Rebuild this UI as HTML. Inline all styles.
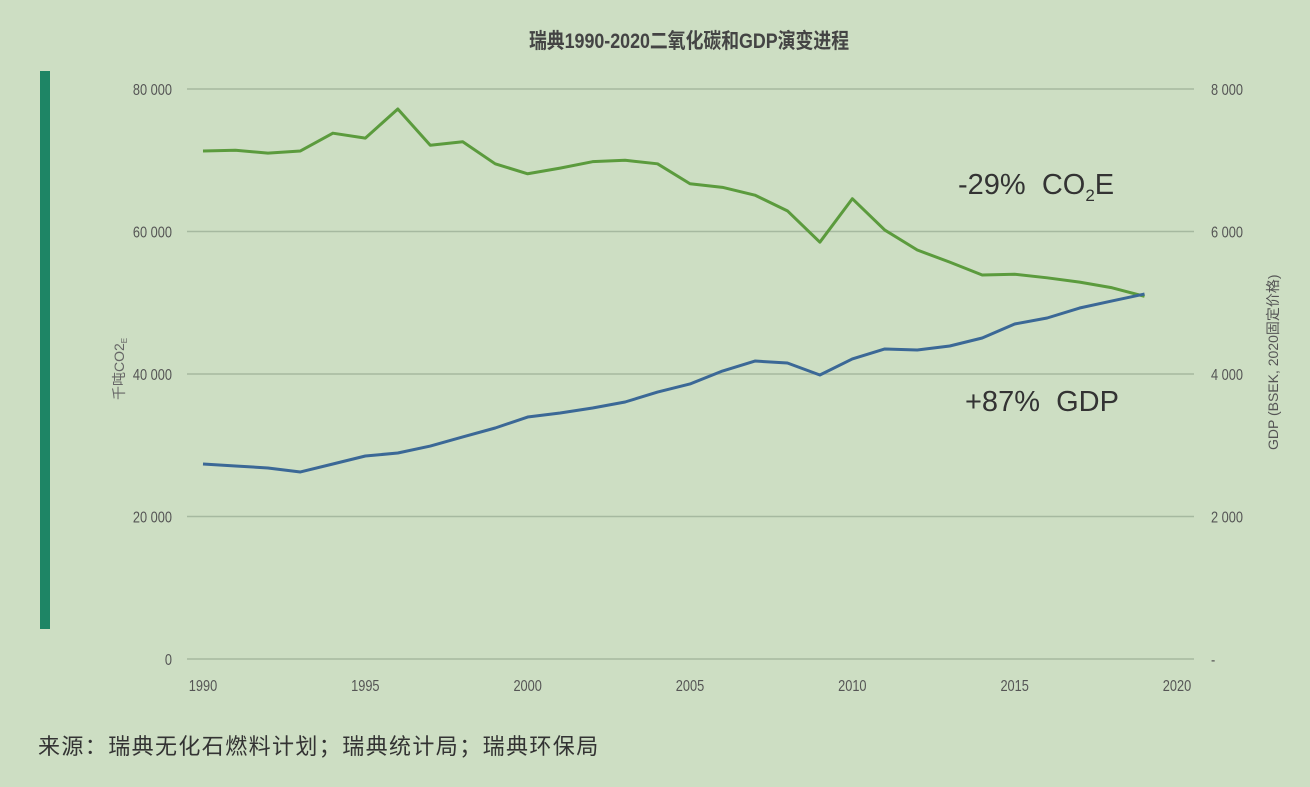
<!DOCTYPE html>
<html><head><meta charset="utf-8"><style>
body{margin:0;background:#cddec3;width:1310px;height:782px;overflow:hidden;font-family:"Liberation Sans","Noto Sans CJK SC",sans-serif;}
svg text{font-family:"Liberation Sans","Noto Sans CJK SC",sans-serif;}
.pre{white-space:pre;}
</style></head><body>
<svg width="1310" height="782" id="chart">
<rect x="0" y="0" width="1310" height="782" fill="#cddec3"/>
<rect x="40" y="71" width="10" height="558" fill="#1e8565"/>
<text x="689" y="48" text-anchor="middle" font-size="21" font-weight="bold" fill="#444" transform="translate(689 0) scale(0.85 1) translate(-689 0)">瑞典1990-2020二氧化碳和GDP演变进程</text>
<text transform="translate(124 400) rotate(-90)" font-size="14" fill="#666">千吨CO2<tspan font-size="8" dy="3">E</tspan></text>
<text transform="translate(1278 450) rotate(-90)" font-size="14" fill="#555">GDP (BSEK, 2020固定价格)</text>
<g id="grid"></g><g id="lines"></g>
<text class="pre" x="958" y="194" font-size="29" fill="#333">-29%  CO<tspan font-size="17" dy="7">2</tspan><tspan dy="-7">E</tspan></text>
<text class="pre" x="965" y="411" font-size="29" fill="#333">+87%  GDP</text>
<text x="38" y="754" font-size="22" letter-spacing="1.4" fill="#333">来源：瑞典无化石燃料计划；瑞典统计局；瑞典环保局</text>
</svg>
<script>
const years=[1990,1991,1992,1993,1994,1995,1996,1997,1998,1999,2000,2001,2002,2003,2004,2005,2006,2007,2008,2009,2010,2011,2012,2013,2014,2015,2016,2017,2018,2019];
const co2=[71300,71400,71000,71300,73800,73100,77200,72100,72600,69500,68100,68900,69800,70000,69500,66700,66200,65100,62900,58500,64600,60200,57400,55700,53900,54000,53500,52900,52100,50900];
const gdp=[2737,2709,2681,2625,2737,2849,2891,2989,3116,3242,3396,3453,3523,3607,3747,3860,4042,4182,4154,3986,4211,4351,4337,4393,4505,4702,4786,4926,5025,5123];
const leftTicks=[0,20000,40000,60000,80000];
const leftLabels=["0","20 000","40 000","60 000","80 000"];
const rightLabels=["-","2 000","4 000","6 000","8 000"];
const xTicks=[1990,1995,2000,2005,2010,2015,2020];
const NS="http://www.w3.org/2000/svg";
const xS=y=>203+(y-1990)*(1177-203)/30;
const yL=v=>659-v*(570/80000);
const yR=v=>659-v*(570/8000);
const grid=document.getElementById('grid'),lines=document.getElementById('lines');
function mk(tag,attrs,parent,txt){const e=document.createElementNS(NS,tag);for(const k in attrs)e.setAttribute(k,attrs[k]);if(txt!==undefined)e.textContent=txt;parent.appendChild(e);return e;}
leftTicks.forEach((t,i)=>{
 const y=yL(t);
 if(t>0){const g=mk('line',{x1:187,x2:1194,y1:y,y2:y,stroke:'#a6b9a0','stroke-width':1.5},grid);
 
 }
 const a=mk('text',{x:172,y:y+6,'text-anchor':'end','font-size':16,fill:'#555',transform:`translate(172 0) scale(0.8 1) translate(-172 0)`},grid,leftLabels[i]);
 
 
 const b=mk('text',{x:1211,y:y+6,'font-size':16,fill:'#555',transform:`translate(1211 0) scale(0.8 1) translate(-1211 0)`},grid,rightLabels[i]);
 
 
});
const ax=mk('line',{x1:187,x2:1194,y1:659,y2:659,stroke:'#a6b9a0','stroke-width':1.5},grid);


xTicks.forEach(t=>{
 const x=xS(t);
 const e=mk('text',{x:x,y:691,'text-anchor':'middle','font-size':16,fill:'#555',transform:`translate(${x} 0) scale(0.8 1) translate(${-x} 0)`},grid,String(t));
 
 
});
const p1=mk('polyline',{points:years.map((y,i)=>xS(y)+','+yL(co2[i])).join(' '),fill:'none',stroke:'#5b9b3d','stroke-width':3,'stroke-linejoin':'round'},lines);


const p2=mk('polyline',{points:years.map((y,i)=>xS(y)+','+yR(gdp[i])).join(' '),fill:'none',stroke:'#3b6896','stroke-width':3,'stroke-linejoin':'round'},lines);


</script>
</body></html>
